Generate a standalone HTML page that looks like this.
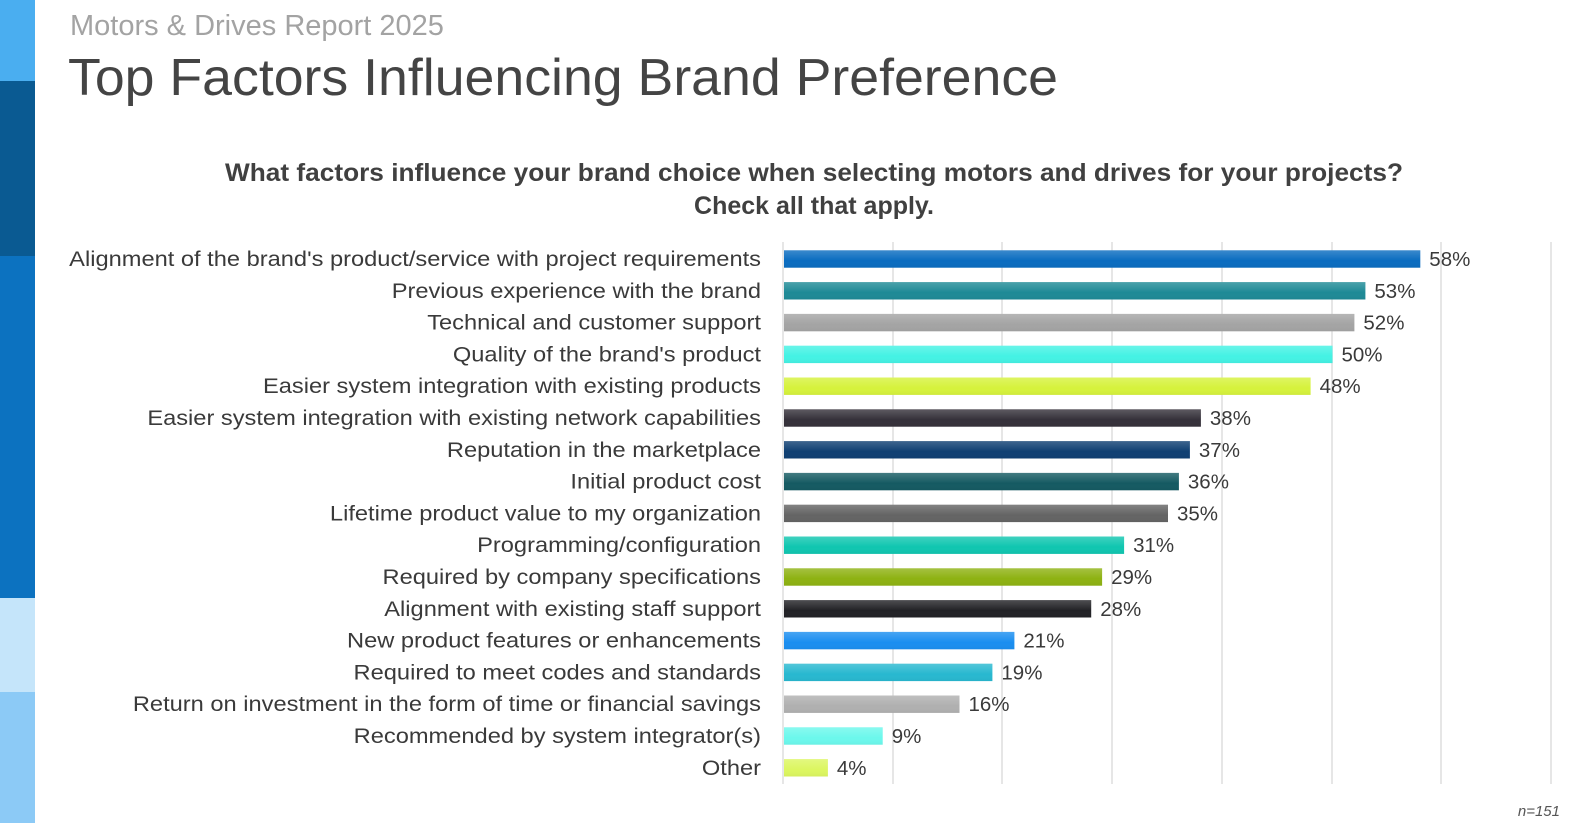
<!DOCTYPE html>
<html><head><meta charset="utf-8"><style>
html,body{margin:0;padding:0;background:#fff;width:1596px;height:823px;overflow:hidden}
svg{display:block}
text{font-family:"Liberation Sans",sans-serif}
</style></head><body>
<svg width="1596" height="823" viewBox="0 0 1596 823" xmlns="http://www.w3.org/2000/svg">
<defs>
<linearGradient id="g" x1="0" y1="0" x2="0" y2="1"><stop offset="0" stop-color="#fff" stop-opacity="0.2"/><stop offset="0.6" stop-color="#fff" stop-opacity="0"/><stop offset="1" stop-color="#000" stop-opacity="0.04"/></linearGradient>
</defs>
<rect x="0" y="0" width="35" height="81" fill="#4aaef0"/>
<rect x="0" y="81" width="35" height="175" fill="#0a5a92"/>
<rect x="0" y="256" width="35" height="342" fill="#0c72c0"/>
<rect x="0" y="598" width="35" height="94" fill="#c5e5fa"/>
<rect x="0" y="692" width="35" height="131" fill="#8ccaf6"/>
<text x="70" y="35" font-size="29" fill="#a3a3a3">Motors &amp; Drives Report 2025</text>
<text x="68" y="95" font-size="52" fill="#444" textLength="990" lengthAdjust="spacingAndGlyphs">Top Factors Influencing Brand Preference</text>
<text x="814" y="181" font-size="25" font-weight="bold" fill="#404040" text-anchor="middle" textLength="1178" lengthAdjust="spacingAndGlyphs">What factors influence your brand choice when selecting motors and drives for your projects?</text>
<text x="814" y="214" font-size="25" font-weight="bold" fill="#404040" text-anchor="middle">Check all that apply.</text>
<g stroke="#e6e6e6" stroke-width="2">
<line x1="783" y1="242" x2="783" y2="784"/><line x1="893" y1="242" x2="893" y2="784"/><line x1="1002" y1="242" x2="1002" y2="784"/><line x1="1112" y1="242" x2="1112" y2="784"/><line x1="1222" y1="242" x2="1222" y2="784"/><line x1="1332" y1="242" x2="1332" y2="784"/><line x1="1441" y1="242" x2="1441" y2="784"/><line x1="1551" y1="242" x2="1551" y2="784"/>
</g>
<g font-size="20.5" fill="#3a3a3a">
<rect x="784" y="250.3" width="636.3" height="17.4" fill="#0a6cc0"/>
<rect x="784" y="282.1" width="581.4" height="17.4" fill="#1e8a96"/>
<rect x="784" y="313.9" width="570.4" height="17.4" fill="#a4a4a4"/>
<rect x="784" y="345.7" width="548.5" height="17.4" fill="#44f2e4"/>
<rect x="784" y="377.5" width="526.6" height="17.4" fill="#d6f23c"/>
<rect x="784" y="409.3" width="416.9" height="17.4" fill="#35313a"/>
<rect x="784" y="441.1" width="405.9" height="17.4" fill="#0f3f72"/>
<rect x="784" y="472.9" width="394.9" height="17.4" fill="#155a62"/>
<rect x="784" y="504.7" width="384" height="17.4" fill="#646464"/>
<rect x="784" y="536.5" width="340.1" height="17.4" fill="#10c6b0"/>
<rect x="784" y="568.3" width="318.1" height="17.4" fill="#8eb212"/>
<rect x="784" y="600.1" width="307.2" height="17.4" fill="#222226"/>
<rect x="784" y="631.9" width="230.4" height="17.4" fill="#1a8ef0"/>
<rect x="784" y="663.7" width="208.4" height="17.4" fill="#28b8d0"/>
<rect x="784" y="695.5" width="175.5" height="17.4" fill="#b0b0b0"/>
<rect x="784" y="727.3" width="98.7" height="17.4" fill="#6cf8ec"/>
<rect x="784" y="759.1" width="43.9" height="17.4" fill="#dcf660"/>
<g fill="url(#g)">
<rect x="784" y="250.3" width="636.3" height="17.4"/>
<rect x="784" y="282.1" width="581.4" height="17.4"/>
<rect x="784" y="313.9" width="570.4" height="17.4"/>
<rect x="784" y="345.7" width="548.5" height="17.4"/>
<rect x="784" y="377.5" width="526.6" height="17.4"/>
<rect x="784" y="409.3" width="416.9" height="17.4"/>
<rect x="784" y="441.1" width="405.9" height="17.4"/>
<rect x="784" y="472.9" width="394.9" height="17.4"/>
<rect x="784" y="504.7" width="384" height="17.4"/>
<rect x="784" y="536.5" width="340.1" height="17.4"/>
<rect x="784" y="568.3" width="318.1" height="17.4"/>
<rect x="784" y="600.1" width="307.2" height="17.4"/>
<rect x="784" y="631.9" width="230.4" height="17.4"/>
<rect x="784" y="663.7" width="208.4" height="17.4"/>
<rect x="784" y="695.5" width="175.5" height="17.4"/>
<rect x="784" y="727.3" width="98.7" height="17.4"/>
<rect x="784" y="759.1" width="43.9" height="17.4"/>
</g>
<g text-anchor="end" font-size="21.5" transform="translate(761,0) scale(1.1,1)">
<text x="0" y="266">Alignment of the brand's product/service with project requirements</text>
<text x="0" y="297.8">Previous experience with the brand</text>
<text x="0" y="329.6">Technical and customer support</text>
<text x="0" y="361.4">Quality of the brand's product</text>
<text x="0" y="393.2">Easier system integration with existing products</text>
<text x="0" y="425">Easier system integration with existing network capabilities</text>
<text x="0" y="456.8">Reputation in the marketplace</text>
<text x="0" y="488.6">Initial product cost</text>
<text x="0" y="520.4">Lifetime product value to my organization</text>
<text x="0" y="552.2">Programming/configuration</text>
<text x="0" y="584">Required by company specifications</text>
<text x="0" y="615.8">Alignment with existing staff support</text>
<text x="0" y="647.6">New product features or enhancements</text>
<text x="0" y="679.4">Required to meet codes and standards</text>
<text x="0" y="711.2">Return on investment in the form of time or financial savings</text>
<text x="0" y="743">Recommended by system integrator(s)</text>
<text x="0" y="774.8">Other</text>
</g>
<text x="1429.3" y="266">58%</text>
<text x="1374.4" y="297.8">53%</text>
<text x="1363.4" y="329.6">52%</text>
<text x="1341.5" y="361.4">50%</text>
<text x="1319.6" y="393.2">48%</text>
<text x="1209.9" y="425">38%</text>
<text x="1198.9" y="456.8">37%</text>
<text x="1187.9" y="488.6">36%</text>
<text x="1177" y="520.4">35%</text>
<text x="1133.1" y="552.2">31%</text>
<text x="1111.1" y="584">29%</text>
<text x="1100.2" y="615.8">28%</text>
<text x="1023.4" y="647.6">21%</text>
<text x="1001.4" y="679.4">19%</text>
<text x="968.5" y="711.2">16%</text>
<text x="891.7" y="743">9%</text>
<text x="836.9" y="774.8">4%</text>
</g>
<text x="1560" y="816" font-size="15" font-style="italic" fill="#555" text-anchor="end">n=151</text>
</svg>
</body></html>
